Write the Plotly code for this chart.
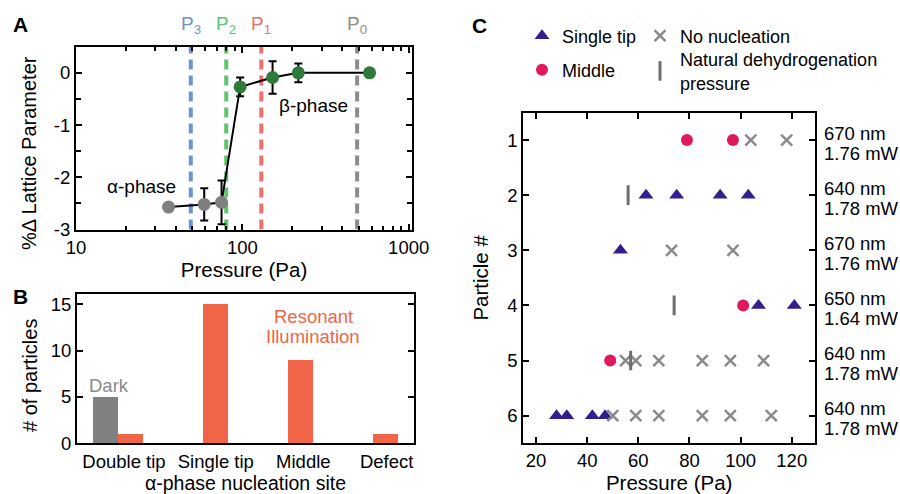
import math
import plotly.graph_objects as go

FONT = "Liberation Sans, Arial, Helvetica, sans-serif"
W, H = 900, 494

# ---------------- Panel A data ----------------
pressure_a = [36, 59, 75, 97, 152, 217, 582]
lattice_a = [-2.57, -2.52, -2.48, -0.27, -0.09, 0.0, 0.0]
err_a = [0.06, 0.31, 0.42, 0.18, 0.31, 0.18, 0.0]
phase_a = ["alpha", "alpha", "alpha", "beta", "beta", "beta", "beta"]
p_names = ["P<sub>3</sub>", "P<sub>2</sub>", "P<sub>1</sub>", "P<sub>0</sub>"]
p_values = [49, 80, 130, 490]
p_colors = ["#6f93d2", "#5ec46c", "#f46c6c", "#8c8c8c"]
a_yticks = [0, -1, -2, -3]
a_yticklabels = ["0", "-1", "-2", "-3"]

# ---------------- Panel B data ----------------
sites = ["Double tip", "Single tip", "Middle", "Defect"]
dark_counts = [5, 0, 0, 0]
resonant_counts = [1, 15, 9, 1]
site_label_shift = [-0.08, 0.0, 0.03, 0.01]   # small label offsets seen in the figure

# ---------------- Panel C data ----------------
single_p = [63, 75, 92, 103, 53, 107, 121, 28, 32, 42, 47]
single_n = [2, 2, 2, 2, 3, 4, 4, 6, 6, 6, 6]
middle_p = [79, 97, 101, 49]
middle_n = [1, 1, 4, 5]
nonuc_p = [104, 118, 73, 97, 55, 59, 68, 85, 96, 109, 50, 59, 68, 85, 96, 112]
nonuc_n = [1, 1, 3, 3, 5, 5, 5, 5, 5, 5, 6, 6, 6, 6, 6, 6]
natural_p = [56, 74, 57]
natural_n = [2, 4, 5]
particles = [1, 2, 3, 4, 5, 6]
wavelengths = ["670 nm", "640 nm", "670 nm", "650 nm", "640 nm", "640 nm"]
powers = ["1.76 mW", "1.78 mW", "1.76 mW", "1.64 mW", "1.78 mW", "1.78 mW"]

GREY_PT = "#7f7f7f"
GREEN_PT = "#2e7a3c"
ORANGE = "#f26447"
NAVY = "#2f1f8f"
MAGENTA = "#de1a5c"
XGREY = "#8a8a8a"


def px(x):
    return x / W


def py(y):
    return 1 - y / H


fig = go.Figure()

# Panel A: dashed pressure lines
for name, val, col in zip(p_names, p_values, p_colors):
    fig.add_trace(go.Scatter(x=[val, val], y=[-3, 0.5], mode="lines",
                             line=dict(color=col, width=4, dash="10px,6px"),
                             xaxis="x", yaxis="y", showlegend=False, hoverinfo="skip"))
# connecting line
fig.add_trace(go.Scatter(x=pressure_a, y=lattice_a, mode="lines",
                         line=dict(color="black", width=2),
                         xaxis="x", yaxis="y", showlegend=False))
for ph, col in (("alpha", GREY_PT), ("beta", GREEN_PT)):
    xs = [p for p, f in zip(pressure_a, phase_a) if f == ph]
    ys = [v for v, f in zip(lattice_a, phase_a) if f == ph]
    es = [e for e, f in zip(err_a, phase_a) if f == ph]
    fig.add_trace(go.Scatter(x=xs, y=ys, mode="markers",
                             marker=dict(color=col, size=13),
                             error_y=dict(type="data", array=es, color="black",
                                          thickness=2, width=4),
                             xaxis="x", yaxis="y", showlegend=False))

# Panel B bars
site_idx = list(range(len(sites)))
fig.add_trace(go.Bar(x=site_idx, y=dark_counts, marker=dict(color="#808080", line=dict(width=0)),
                     width=0.294, offset=-0.441, xaxis="x2", yaxis="y2", showlegend=False))
fig.add_trace(go.Bar(x=site_idx, y=resonant_counts, marker=dict(color=ORANGE, line=dict(width=0)),
                     width=0.294, offset=-0.147, xaxis="x2", yaxis="y2", showlegend=False))

# Panel C scatter
fig.add_trace(go.Scatter(x=single_p, y=single_n, mode="markers", name="Single tip",
                         marker=dict(symbol="triangle-up", color=NAVY, size=13),
                         xaxis="x3", yaxis="y3", legend="legend"))
fig.add_trace(go.Scatter(x=middle_p, y=middle_n, mode="markers", name="Middle",
                         marker=dict(symbol="circle", color=MAGENTA, size=12),
                         xaxis="x3", yaxis="y3", legend="legend2"))
fig.add_trace(go.Scatter(x=nonuc_p, y=nonuc_n, mode="markers", name="No nucleation",
                         marker=dict(symbol="x-thin", color=XGREY, size=11,
                                     line=dict(color=XGREY, width=2.5)),
                         xaxis="x3", yaxis="y3", legend="legend3"))
fig.add_trace(go.Scatter(x=natural_p, y=natural_n, mode="markers",
                         name="Natural dehydrogenation<br>pressure",
                         marker=dict(symbol="line-ns", color="#6e6e6e", size=14,
                                     line=dict(color="#6e6e6e", width=3)),
                         xaxis="x3", yaxis="y3", legend="legend4"))

ax_common = dict(showline=True, linewidth=2, linecolor="black", mirror="ticks",
                 ticks="inside", ticklen=6, tickwidth=2, tickcolor="black",
                 showgrid=False, zeroline=False, automargin=False,
                 tickfont=dict(family=FONT, size=18.5, color="black"))
title_font = dict(family=FONT, size=20.5, color="black")

minor_log = [m * 10 ** e for e in (1, 2) for m in range(2, 10)]


def leg(x, y):
    return dict(x=px(x), y=py(y), xanchor="left", yanchor="middle",
                font=dict(family=FONT, size=18, color="black"),
                bgcolor="rgba(0,0,0,0)", itemwidth=30)


fig.update_layout(
    width=W, height=H, margin=dict(l=0, r=0, t=0, b=0, autoexpand=False),
    paper_bgcolor="white", plot_bgcolor="white",
    font=dict(family=FONT, size=18.5, color="black"),
    xaxis=dict(ax_common, type="log", domain=[px(76), px(412)], range=[1, 3.02],
               tickvals=[10, 100, 1000], ticktext=["10", "100", "1000"],
               minor=dict(tickvals=minor_log, ticks="inside", ticklen=4, tickwidth=1.5,
                          tickcolor="black"),
               title=dict(text="Pressure (Pa)", font=title_font, standoff=1),
               anchor="y"),
    yaxis=dict(ax_common, domain=[py(229.5), py(46.7)], range=[-3, 0.5],
               tickvals=a_yticks, ticktext=a_yticklabels,
               minor=dict(dtick=0.5, ticks="inside", ticklen=5, tickwidth=2, tickcolor="black"),
               anchor="x"),
    xaxis2=dict(ax_common, ticks="", type="linear", domain=[px(77), px(414)],
                range=[-0.633, 3.332],
                tickvals=[i + s for i, s in zip(site_idx, site_label_shift)],
                ticktext=sites,
                title=dict(text="α-phase nucleation site",
                           font=dict(family=FONT, size=19.5, color="black"), standoff=15),
                anchor="y2"),
    yaxis2=dict(ax_common, domain=[py(443.3), py(294)], range=[0, 16.1],
                tickvals=[0, 5, 10, 15],
                anchor="x2"),
    xaxis3=dict(ax_common, domain=[px(523.3), px(815)], range=[15, 129.1],
                tickvals=[20, 40, 60, 80, 100, 120],
                title=dict(text="Pressure (Pa)", font=title_font, standoff=3),
                anchor="y3"),
    yaxis3=dict(ax_common, domain=[py(442.7), py(113)], range=[6.49, 0.51],
                tickvals=particles,
                title=dict(text="Particle #", font=title_font, standoff=13),
                anchor="x3"),
    legend=leg(522, 36),
    legend2=leg(522, 70),
    legend3=leg(640, 36),
    legend4=leg(640, 71),
    bargap=0,
)

ann = []


def add_text(text, x, y, size=18.5, color="black", bold=False, angle=0):
    ann.append(dict(text=f"<b>{text}</b>" if bold else text, x=px(x), y=py(y),
                    xref="paper", yref="paper", showarrow=False, textangle=angle,
                    xanchor="center", yanchor="middle",
                    font=dict(family=FONT, size=size, color=color)))


# panel letters
add_text("A", 20, 25, size=21, bold=True)
add_text("B", 20, 296, size=21, bold=True)
add_text("C", 479, 26, size=21, bold=True)
# y-axis titles of panels A and B (sit slightly below centre in the reference)
add_text("%Δ Lattice Parameter", 29, 153, size=20, angle=-90)
add_text("# of particles", 30, 376, size=20, angle=-90)
# P labels above panel A
for name, val, col in zip(p_names, p_values, p_colors):
    ann.append(dict(text=name, x=math.log10(val), y=1, xref="x", yref="y domain",
                    yshift=22, showarrow=False, font=dict(family=FONT, size=19, color=col),
                    xanchor="center", yanchor="middle"))
add_text("α-phase", 141, 186, size=19)
add_text("β-phase", 313, 105, size=19)
add_text("Dark", 109, 385, color="#8a8a8a")
add_text("Resonant", 313, 316, color=ORANGE)
add_text("Illumination", 313, 336, color=ORANGE)
# right side labels panel C
for n, wl, pw in zip(particles, wavelengths, powers):
    ann.append(dict(text=wl, x=px(822), y=n, xref="paper", yref="y3", yshift=7,
                    showarrow=False, xanchor="left", yanchor="middle",
                    font=dict(family=FONT, size=18.5, color="black")))
    ann.append(dict(text=pw, x=px(822), y=n, xref="paper", yref="y3", yshift=-13,
                    showarrow=False, xanchor="left", yanchor="middle",
                    font=dict(family=FONT, size=18.5, color="black")))
fig.update_layout(annotations=ann)

fig.write_html("out.html")
